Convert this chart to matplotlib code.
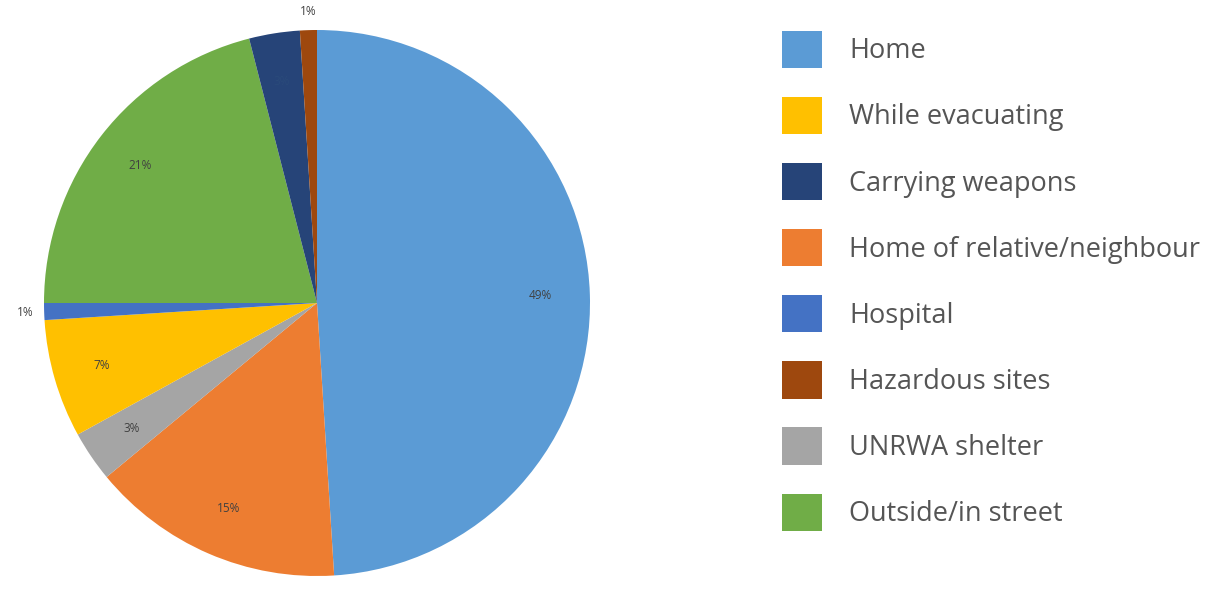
import matplotlib
matplotlib.use("Agg")
import matplotlib.pyplot as plt
from matplotlib.patches import Patch

# Data (pie order, clockwise from 12 o'clock)
categories = ["Home", "Home of relative/neighbour", "UNRWA shelter", "While evacuating",
              "Hospital", "Outside/in street", "Carrying weapons", "Hazardous sites"]
values = [49, 15, 3, 7, 1, 21, 3, 1]
colors = ["#5B9BD5", "#ED7D31", "#A5A5A5", "#FFC000",
          "#4472C4", "#70AD47", "#264478", "#9E480E"]
legend_order = ["Home", "While evacuating", "Carrying weapons", "Home of relative/neighbour",
                "Hospital", "Hazardous sites", "UNRWA shelter", "Outside/in street"]

W, H = 1210, 592
fig = plt.figure(figsize=(W / 100, H / 100), dpi=100)
cx, cy, r = 317, 303, 273
ax = fig.add_axes([(cx - r) / W, (H - cy - r) / H, 2 * r / W, 2 * r / H])

wedges, texts = ax.pie(values, colors=colors, startangle=90, counterclock=False,
                       labels=[f"{v}%" for v in values], labeldistance=0.82,
                       wedgeprops=dict(linewidth=0),
                       textprops=dict(fontsize=8.5, color="#404040", family="Open Sans",
                                      ha="center", va="center"))
for t, v, c in zip(texts, values, categories):
    x, y = t.get_position()
    if v == 1:
        f = 1.07 / 0.82
        t.set_position((x * f, y * f))
    if c == "Carrying weapons":
        t.set_color("#2a4a7a")
ax.set_xlim(-1, 1)
ax.set_ylim(-1, 1)
ax.set_aspect("equal")
ax.axis("off")

cmap = dict(zip(categories, colors))
handles = [Patch(facecolor=cmap[c], edgecolor="none") for c in legend_order]
leg = fig.legend(handles, legend_order, loc="upper left",
                 bbox_to_anchor=(778 / W, 1 - 27 / H), frameon=False,
                 prop=dict(family="Open Sans", size=19.5),
                 handlelength=1.48, handleheight=1.73, handletextpad=1.0,
                 labelspacing=1.07, borderaxespad=0, borderpad=0.15)
for t in leg.get_texts():
    t.set_color("#555555")

fig.savefig("out.png", dpi=100, facecolor="white")
